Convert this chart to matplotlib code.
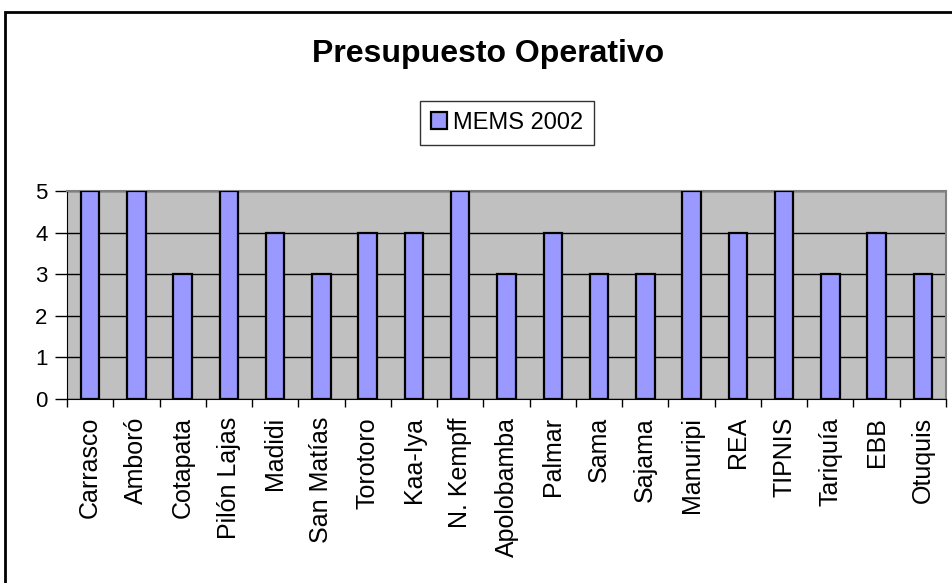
import matplotlib
matplotlib.use('Agg')
import matplotlib.pyplot as plt
from matplotlib.patches import Rectangle
import numpy as np

plt.rcParams['font.family'] = ['Liberation Sans', 'DejaVu Sans']

categories = ['Carrasco', 'Amboró', 'Cotapata', 'Pilón Lajas', 'Madidi',
              'San Matías', 'Torotoro', 'Kaa-Iya', 'N. Kempff', 'Apolobamba',
              'Palmar', 'Sama', 'Sajama', 'Manuripi', 'REA', 'TIPNIS',
              'Tariquía', 'EBB', 'Otuquis']
mems_2002 = [5, 5, 3, 5, 4, 3, 4, 4, 5, 3, 4, 3, 3, 5, 4, 5, 3, 4, 3]

W, H = 953, 583
fig = plt.figure(figsize=(W / 100, H / 100), dpi=100)
fig.patch.set_facecolor('white')

# outer chart border (runs off the right and bottom edges)
fig.patches.append(Rectangle((5 / W, -0.05), 1.2, 1 - 12 / H + 0.05,
                             transform=fig.transFigure, fill=False,
                             edgecolor='black', linewidth=2))

ax = fig.add_axes([67 / W, 1 - 399 / H, (946 - 67) / W, (399 - 191) / H])
ax.set_facecolor('#C0C0C0')

x = np.arange(len(categories))
ax.bar(x, mems_2002, width=0.4, color='#9999FF', edgecolor='black',
       linewidth=1.6, label='MEMS 2002', zorder=3)

ax.set_xlim(-0.5, len(categories) - 0.5)
ax.set_ylim(0, 5)
ax.set_yticks(range(6))
ax.yaxis.grid(True, color='black', linewidth=1, zorder=1)

ax.set_xticks(x)
ax.set_xticklabels(categories, rotation=90, fontsize=18)
ax.tick_params(axis='x', length=0, pad=13)
ax.set_xticks(np.arange(-0.5, len(categories)), minor=True)
ax.tick_params(axis='x', which='minor', length=6, width=1, color='black')
ax.tick_params(axis='y', length=9, width=1, labelsize=16, pad=5)

for side in ['top', 'right']:
    ax.spines[side].set_color('#808080')
    ax.spines[side].set_linewidth(1.5)
ax.spines['left'].set_color('black')
ax.spines['bottom'].set_color('black')

fig.text(312 / W, 1 - 54 / H, 'Presupuesto Operativo',
         ha='left', va='center', fontsize=23, fontweight='bold')

leg = fig.legend(loc='center', bbox_to_anchor=(507 / W, 1 - 123 / H),
                 fontsize=17, frameon=True, fancybox=False,
                 handlelength=0.7, handleheight=0.7, handletextpad=0.25,
                 borderpad=0.45, borderaxespad=0)
leg.get_frame().set_edgecolor('black')
leg.get_frame().set_linewidth(1)

fig.savefig('out.png', dpi=100)
